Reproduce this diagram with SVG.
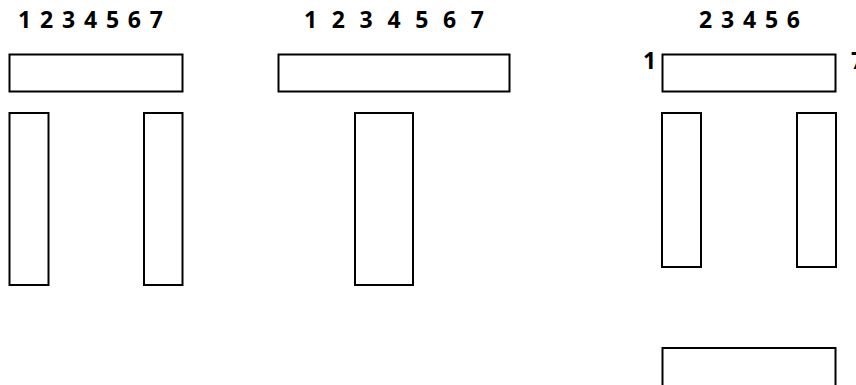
<svg xmlns="http://www.w3.org/2000/svg" width="856" height="385" viewBox="0 0 856 385">
<style>
.b{fill:#fff;stroke:#000;stroke-width:2}
.t{font-family:"Open Sans","Liberation Sans",sans-serif;font-weight:bold;font-size:23px;fill:#000}
</style>
<rect width="856" height="385" fill="#fff"/>
<g id="fig1">
<text class="t" x="18" y="28" textLength="145" lengthAdjust="spacing">1 2 3 4 5 6 7</text>
<rect id="fig1-top" class="b" x="9.5" y="54.5" width="173" height="37"/>
<rect id="fig1-left" class="b" x="9.5" y="113" width="39" height="172"/>
<rect id="fig1-right" class="b" x="144" y="113" width="38.5" height="172"/>
</g>
<g id="fig2">
<text class="t" x="304" y="28" textLength="180" lengthAdjust="spacing">1 2 3 4 5 6 7</text>
<rect id="fig2-top" class="b" x="278.5" y="54.5" width="231" height="37"/>
<rect id="fig2-post" class="b" x="355" y="113" width="58" height="172"/>
</g>
<g id="fig3">
<text class="t" x="699" y="28" textLength="101" lengthAdjust="spacing">2 3 4 5 6</text>
<text class="t" x="643" y="69">1</text>
<text class="t" x="851" y="69">7</text>
<rect id="fig3-top" class="b" x="662.5" y="54.5" width="173" height="37"/>
<rect id="fig3-left" class="b" x="662" y="113" width="39" height="154"/>
<rect id="fig3-right" class="b" x="797" y="113" width="39" height="154"/>
<rect id="fig3-bottom" class="b" x="662.5" y="348" width="173" height="60"/>
</g>
</svg>
